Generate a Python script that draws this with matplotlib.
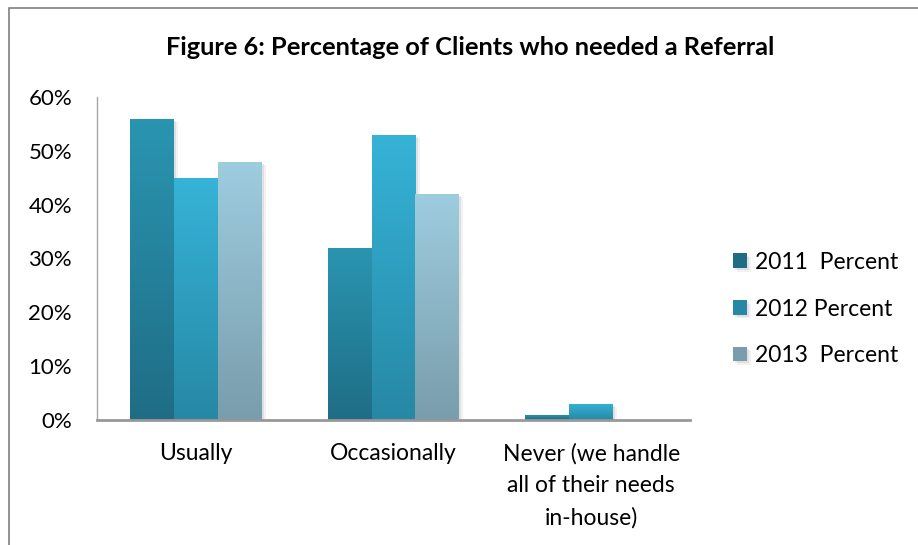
import numpy as np
import matplotlib
matplotlib.use('Agg')
import matplotlib.pyplot as plt
from matplotlib.patches import Rectangle
from matplotlib.colors import LinearSegmentedColormap
import matplotlib.patheffects as pe
from matplotlib.ticker import PercentFormatter

plt.rcParams['font.family'] = ['Lato', 'DejaVu Sans']

# 数据
categories = ['Usually', 'Occasionally', 'Never (we handle\nall of their needs\nin-house)']
series_names = ['2011  Percent', '2012 Percent', '2013  Percent']
pct_2011 = [56, 32, 1]
pct_2012 = [45, 53, 3]
pct_2013 = [48, 42, 0]

# 渐变色：顶部 -> 底部
grads = [('#2A95B1', '#1F6D85'),
         ('#36B3D7', '#2688A5'),
         ('#9ECDDF', '#799DAC')]

fig = plt.figure(figsize=(9.18, 5.45), dpi=100)
ax = fig.add_axes([97 / 918, 1 - 420 / 545, (690 - 97) / 918, (420 - 97) / 545])

x = np.arange(len(categories))
width = 0.222
values = [pct_2011, pct_2012, pct_2013]

shadow = [pe.SimplePatchShadow(offset=(1.5, -1.5), shadow_rgbFace='#000000', alpha=0.07),
          pe.SimplePatchShadow(offset=(3, -2.5), shadow_rgbFace='#000000', alpha=0.05),
          pe.Normal()]

for i, vals in enumerate(values):
    cmap = LinearSegmentedColormap.from_list('g%d' % i, [grads[i][1], grads[i][0]])
    bars = ax.bar(x + (i - 1) * width, vals, width, color=grads[i][0], linewidth=0,
                  label=series_names[i], zorder=2)
    for b in bars:
        h = b.get_height()
        if h <= 0:
            continue
        b.set_path_effects(shadow)
        x0 = b.get_x()
        grad = np.linspace(0, 1, 256).reshape(-1, 1)
        # 每根柱子从底到顶单独渐变
        im = ax.imshow(grad, cmap=cmap, origin='lower', aspect='auto',
                       extent=[x0, x0 + b.get_width(), 0, h], vmin=0, vmax=1, zorder=3)
        im.set_clip_path(b)

ax.set_xlim(-0.5, 2.5)
ax.set_ylim(0, 60)
ax.set_yticks(np.arange(0, 61, 10))
ax.yaxis.set_major_formatter(PercentFormatter(decimals=0))
ax.set_xticks(x)
ax.set_xticklabels(categories, linespacing=1.62)
ax.tick_params(axis='both', length=0, colors='black')
ax.tick_params(axis='y', pad=18, labelsize=16)
ax.tick_params(axis='x', pad=16.5, labelsize=16.5)

for s in ['top', 'right']:
    ax.spines[s].set_visible(False)
ax.spines['left'].set_color('#A6A6A6')
ax.spines['left'].set_linewidth(1.0)
ax.spines['bottom'].set_color('#989898')
ax.spines['bottom'].set_linewidth(2.0)
ax.spines['bottom'].set_zorder(4)

# 图例
leg = ax.legend(loc='center left', bbox_to_anchor=(733 / 918, 1 - 309 / 545),
                bbox_transform=fig.transFigure, frameon=False, fontsize=16.5,
                handlelength=0.6, handleheight=0.6, handletextpad=0.35,
                labelspacing=1.12, borderaxespad=0, borderpad=0)
for h, (top, bot) in zip(leg.legend_handles, grads):
    h.set_facecolor(bot)

fig.text(470 / 918, 1 - 47 / 545, 'Figure 6: Percentage of Clients who needed a Referral',
         ha='center', va='center', fontsize=18.3, fontweight='bold')

# 外框
fig.patches.append(Rectangle((9 / 918, -0.1), 2, 1 - 8 / 545 + 0.1, transform=fig.transFigure,
                             fill=False, edgecolor='#7F7F7F', linewidth=1.2))

fig.savefig('out.png', dpi=100)
